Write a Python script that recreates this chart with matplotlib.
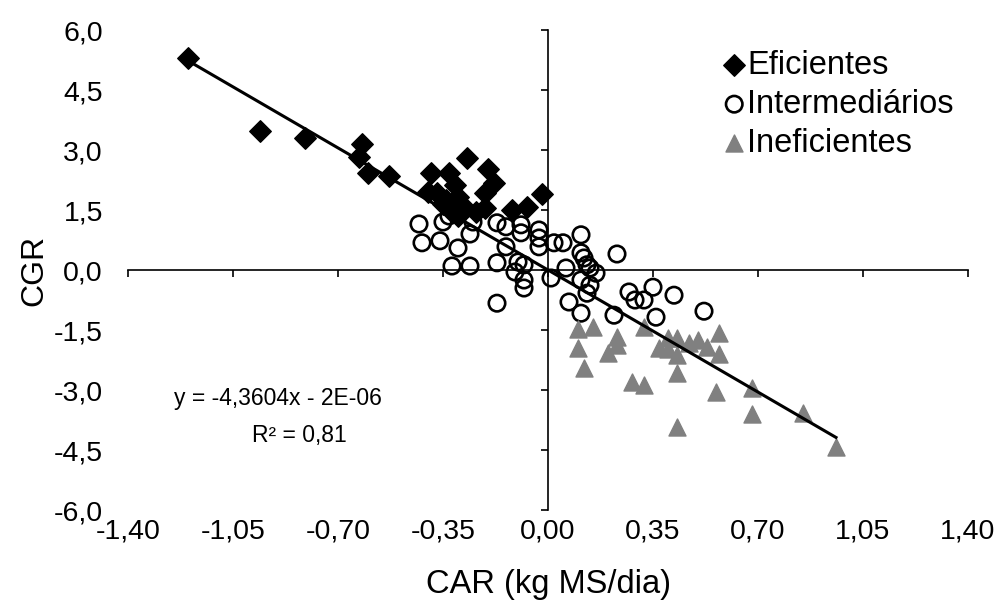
import matplotlib
matplotlib.use('Agg')
import matplotlib.pyplot as plt
import numpy as np

plt.rcParams['font.family'] = ['Liberation Sans', 'DejaVu Sans']

# Data (CAR kg MS/dia, CGR)
efic_x = [-1.20, -0.96, -0.81, -0.62, -0.63, -0.60, -0.53, -0.39, -0.33, -0.27,
          -0.20, -0.18, -0.21, -0.40, -0.37, -0.31, -0.30, -0.34, -0.02, -0.12,
          -0.07, -0.28, -0.21, -0.32, -0.35, -0.24, -0.30]
efic_y = [5.30, 3.48, 3.30, 3.15, 2.83, 2.43, 2.35, 2.43, 2.43, 2.80,
          2.53, 2.18, 1.93, 1.95, 1.93, 2.13, 1.83, 1.75, 1.90, 1.50,
          1.58, 1.58, 1.55, 1.45, 1.65, 1.45, 1.35]

inter_x = [-0.43, -0.42, -0.36, -0.35, -0.30, -0.32, -0.26, -0.26, -0.25, -0.33,
           -0.17, -0.17, -0.17, -0.14, -0.14, -0.10, -0.11, -0.08, -0.09, -0.09,
           -0.08, -0.08, -0.03, -0.03, -0.03, 0.02, 0.05, 0.01, 0.06, 0.07,
           0.11, 0.11, 0.12, 0.13, 0.14, 0.16, 0.11, 0.14, 0.13, 0.11,
           0.23, 0.22, 0.27, 0.29, 0.32, 0.35, 0.36, 0.42, 0.52]
inter_y = [1.15, 0.68, 0.73, 1.20, 0.55, 0.10, 0.10, 0.90, 1.20, 1.35,
           0.18, -0.83, 1.18, 1.08, 0.58, 0.20, -0.05, 0.13, 1.13, 0.93,
           -0.25, -0.45, 1.00, 0.80, 0.58, 0.68, 0.68, -0.20, 0.05, -0.80,
           0.88, 0.43, 0.30, 0.13, 0.05, -0.08, -0.25, -0.38, -0.58, -1.08,
           0.40, -1.13, -0.55, -0.75, -0.75, -0.43, -1.18, -0.63, -1.03]

inef_x = [0.10, 0.15, 0.10, 0.12, 0.23, 0.23, 0.20, 0.32, 0.28, 0.32,
          0.37, 0.40, 0.43, 0.40, 0.43, 0.43, 0.47, 0.50, 0.53, 0.57,
          0.57, 0.43, 0.56, 0.68, 0.68, 0.85, 0.96]
inef_y = [-1.48, -1.43, -1.95, -2.45, -1.68, -1.88, -2.08, -1.43, -2.80, -2.88,
          -1.95, -1.70, -1.70, -1.98, -2.13, -2.58, -1.83, -1.75, -1.93, -1.58,
          -2.10, -3.93, -3.05, -2.95, -3.60, -3.58, -4.43]

slope, intercept = -4.3604, -2e-06
xticks = [-1.40, -1.05, -0.70, -0.35, 0.00, 0.35, 0.70, 1.05, 1.40]
yticks = [-6.0, -4.5, -3.0, -1.5, 0.0, 1.5, 3.0, 4.5, 6.0]

fig = plt.figure(figsize=(10.06, 6.1), dpi=100)
rect = [128 / 1006, 100 / 610, 840 / 1006, 480 / 610]

# main axes with spines crossing at zero
ax = fig.add_axes(rect)
ax.set_xlim(-1.40, 1.40)
ax.set_ylim(-6.0, 6.0)
ax.spines['left'].set_position(('data', 0))
ax.spines['bottom'].set_position(('data', 0))
ax.spines['top'].set_visible(False)
ax.spines['right'].set_visible(False)
for s in ['left', 'bottom']:
    ax.spines[s].set_linewidth(1.2)
ax.set_xticks(xticks)
ax.set_yticks(yticks)
ax.tick_params(direction='out', length=5, width=1.2,
               labelleft=False, labelbottom=False)

# overlay axes that only carries the tick labels at the edges
lab = fig.add_axes(rect, frameon=False)
lab.set_xlim(-1.40, 1.40)
lab.set_ylim(-6.0, 6.0)
lab.set_xticks(xticks)
lab.set_yticks(yticks)
lab.set_xticklabels(['{:.2f}'.format(v).replace('.', ',') for v in xticks])
lab.set_yticklabels(['{:.1f}'.format(v).replace('.', ',') for v in yticks])
lab.tick_params(axis='x', length=0, labelsize=20.5, pad=6)
lab.tick_params(axis='y', length=0, labelsize=20.5, pad=18)
lab.patch.set_visible(False)
lab.set_xlabel('CAR (kg MS/dia)', fontsize=23.5, labelpad=18)
lab.set_ylabel('CGR', fontsize=23, labelpad=3)

# points
ax.scatter(efic_x, efic_y, marker='D', s=120, color='black', zorder=3,
           label='Eficientes')
ax.scatter(inter_x, inter_y, marker='o', s=140, facecolors='none',
           edgecolors='black', linewidths=1.9, zorder=3, label='Intermediários')
ax.scatter(inef_x, inef_y, marker='^', s=150, color='#808080', zorder=3,
           label='Ineficientes')

# trendline
all_x = efic_x + inter_x + inef_x
xl = np.array([min(all_x), max(all_x)])
ax.plot(xl, slope * xl + intercept, color='black', lw=2.2, zorder=4)

ax.text(-0.90, -3.22, 'y = -4,3604x - 2E-06', fontsize=16.5,
        ha='center', va='center')
ax.text(-0.83, -4.14, 'R² = 0,81', fontsize=16.5, ha='center', va='center')

ax.legend(loc='upper left', bbox_to_anchor=(0.677, 1.0), frameon=False,
          fontsize=23.5, handletextpad=-0.15, labelspacing=0.25,
          handlelength=1.1, borderaxespad=0.2)

fig.savefig('out.png', dpi=100)
